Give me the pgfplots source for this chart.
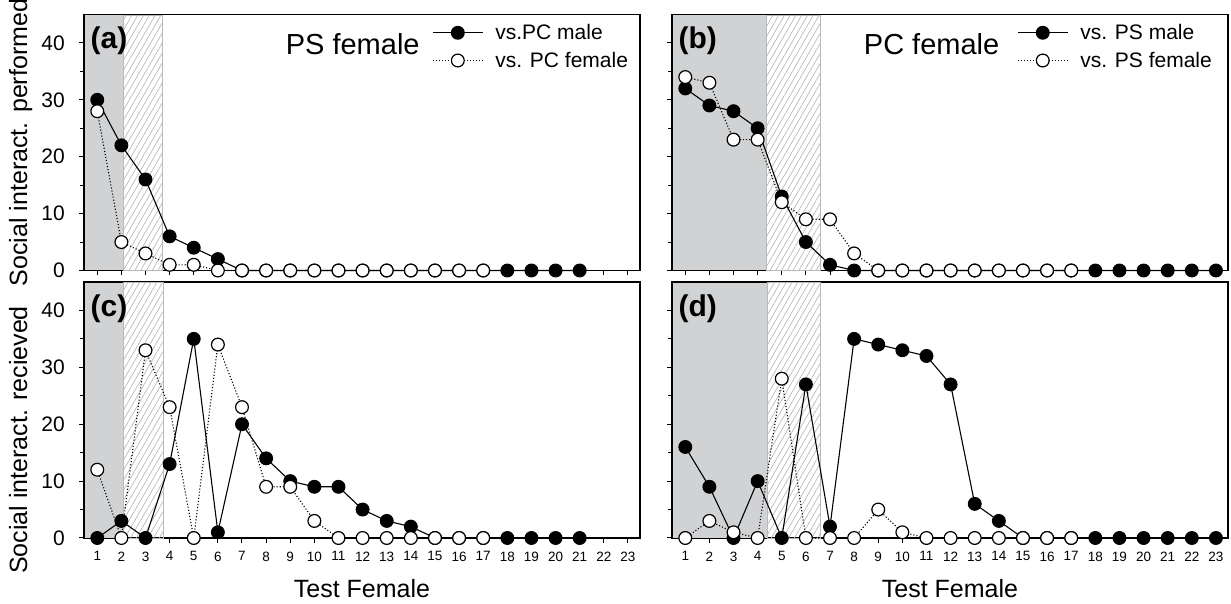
\documentclass[border=0pt]{standalone}
\usepackage{fontspec}
\setmainfont{Liberation Sans}
\usepackage{pgfplots}
\pgfplotsset{compat=1.18}
\usetikzlibrary{patterns.meta}

\definecolor{shade}{RGB}{209,210,212}
\definecolor{hatchc}{RGB}{185,185,185}

\pgfplotsset{
  panel/.style={
    scale only axis, width=556pt, height=256pt,
    xmin=0.45, xmax=23.5, ymin=0, ymax=45,
    xtick={1,...,23}, ytick={0,10,...,40}, minor ytick={5,15,25,35},
    tick align=outside, tick pos=left,
    major tick length=5pt, minor tick length=4pt,
    every tick/.style={black, line width=1pt},
    axis line style={line width=1.3pt},
    clip=false,
    /pgf/number format/assume math mode=true,
    yticklabel style={font=\fontsize{21}{24}\selectfont, anchor=east, inner sep=0pt, xshift=-14pt},
    xticklabel style={font=\fontsize{13.5}{16}\selectfont, anchor=north, inner sep=0pt, yshift=-8.5pt},
    ylabel style={anchor=base, font=\fontsize{25}{28}\selectfont},
    xlabel style={at={(axis description cs:0.5,-0.234)}, anchor=base, font=\fontsize{25}{28}\selectfont},
    legend cell align=left,
    legend image code/.code={\draw[mark repeat=2, mark phase=2, #1] plot coordinates {(0pt,0pt) (25pt,0pt) (50pt,0pt)};},
    legend style={draw=none, fill=none, anchor=north west, font=\fontsize{21}{24}\selectfont,
      inner sep=0pt, row sep=11pt, nodes={inner sep=0pt},
      /tikz/every odd column/.append style={column sep=12pt}},
  },
  filled/.style={black, line width=1.1pt, mark=*, mark size=6.4pt, mark options={solid, fill=black}},
  open/.style={black, line width=1.1pt, dotted, mark=*, mark size=6.4pt, mark options={solid, fill=white, line width=1.2pt}},
  graybox/.style={draw=none, fill=shade, forget plot},
  hatchbox/.style={draw=hatchc, line width=0.8pt, pattern={Lines[angle=60, distance=5pt, line width=0.7pt]}, pattern color=hatchc, forget plot},
}

\begin{document}
\begin{tikzpicture}
\useasboundingbox (0,0) rectangle (1231pt,604pt);

% ---------------- (a) ----------------
\begin{axis}[panel, at={(84pt,333.5pt)}, anchor=south west,
  xticklabels={}, ylabel={Social interact. performed},
  ylabel style={at={(axis description cs:-0.1025,0.5)}},
  legend style={at={(axis description cs:0.626,0.962)}}]
\addplot[graybox] coordinates {(0.48,44.9) (2.1,44.9)} \closedcycle;
\addplot[hatchbox] coordinates {(2.1,44.9) (3.7,44.9)} \closedcycle;
\addplot[filled] coordinates {(1,30)(2,22)(3,16)(4,6)(5,4)(6,2)(7,0)(8,0)(9,0)(10,0)(11,0)(12,0)(13,0)(14,0)(15,0)(16,0)(17,0)(18,0)(19,0)(20,0)(21,0)};
\addlegendentry{vs.PC male}
\addplot[open] coordinates {(1,28)(2,5)(3,3)(4,1)(5,1)(6,0)(7,0)(8,0)(9,0)(10,0)(11,0)(12,0)(13,0)(14,0)(15,0)(16,0)(17,0)};
\addlegendentry{vs. PC female}
\node[anchor=base west, font=\fontsize{30}{32}\selectfont\bfseries] at (axis description cs:0.0055,0.866) {(a)};
\node[anchor=base east, font=\fontsize{29}{32}\selectfont] at (axis description cs:0.61,0.842) {PS female};
\end{axis}

% ---------------- (b) ----------------
\begin{axis}[panel, at={(672pt,333.5pt)}, anchor=south west,
  xticklabels={}, yticklabels={},
  legend style={at={(axis description cs:0.6205,0.962)}}]
\addplot[graybox] coordinates {(0.48,44.9) (4.36,44.9)} \closedcycle;
\addplot[hatchbox] coordinates {(4.36,44.9) (6.6,44.9)} \closedcycle;
\addplot[filled] coordinates {(1,32)(2,29)(3,28)(4,25)(5,13)(6,5)(7,1)(8,0)(9,0)(10,0)(11,0)(12,0)(13,0)(14,0)(15,0)(16,0)(17,0)(18,0)(19,0)(20,0)(21,0)(22,0)(23,0)};
\addlegendentry{vs. PS male}
\addplot[open] coordinates {(1,34)(2,33)(3,23)(4,23)(5,12)(6,9)(7,9)(8,3)(9,0)(10,0)(11,0)(12,0)(13,0)(14,0)(15,0)(16,0)(17,0)};
\addlegendentry{vs. PS female}
\node[anchor=base west, font=\fontsize{30}{32}\selectfont\bfseries] at (axis description cs:0.0055,0.866) {(b)};
\node[anchor=base east, font=\fontsize{29}{32}\selectfont] at (axis description cs:0.595,0.842) {PC female};
\end{axis}

% ---------------- (c) ----------------
\begin{axis}[panel, at={(84pt,66pt)}, anchor=south west,
  ylabel={Social interact. recieved}, xlabel={Test Female},
  ylabel style={at={(axis description cs:-0.1025,0.383)}}]
\addplot[graybox] coordinates {(0.48,44.9) (2.1,44.9)} \closedcycle;
\addplot[hatchbox] coordinates {(2.1,44.9) (3.75,44.9)} \closedcycle;
\addplot[filled] coordinates {(1,0)(2,3)(3,0)(4,13)(5,35)(6,1)(7,20)(8,14)(9,10)(10,9)(11,9)(12,5)(13,3)(14,2)(15,0)(16,0)(17,0)(18,0)(19,0)(20,0)(21,0)};
\addplot[open] coordinates {(1,12)(2,0)(3,33)(4,23)(5,0)(6,34)(7,23)(8,9)(9,9)(10,3)(11,0)(12,0)(13,0)(14,0)(15,0)(16,0)(17,0)};
\node[anchor=base west, font=\fontsize{30}{32}\selectfont\bfseries] at (axis description cs:0.0055,0.866) {(c)};
\end{axis}

% ---------------- (d) ----------------
\begin{axis}[panel, at={(672pt,66pt)}, anchor=south west,
  yticklabels={}, xlabel={Test Female}]
\addplot[graybox] coordinates {(0.48,44.9) (4.4,44.9)} \closedcycle;
\addplot[hatchbox] coordinates {(4.4,44.9) (6.6,44.9)} \closedcycle;
\addplot[filled] coordinates {(1,16)(2,9)(3,0)(4,10)(5,0)(6,27)(7,2)(8,35)(9,34)(10,33)(11,32)(12,27)(13,6)(14,3)(15,0)(16,0)(17,0)(18,0)(19,0)(20,0)(21,0)(22,0)(23,0)};
\addplot[open] coordinates {(1,0)(2,3)(3,1)(4,0)(5,28)(6,0)(7,0)(8,0)(9,5)(10,1)(11,0)(12,0)(13,0)(14,0)(15,0)(16,0)(17,0)};
\node[anchor=base west, font=\fontsize{30}{32}\selectfont\bfseries] at (axis description cs:0.0055,0.866) {(d)};
\end{axis}
\end{tikzpicture}
\end{document}
